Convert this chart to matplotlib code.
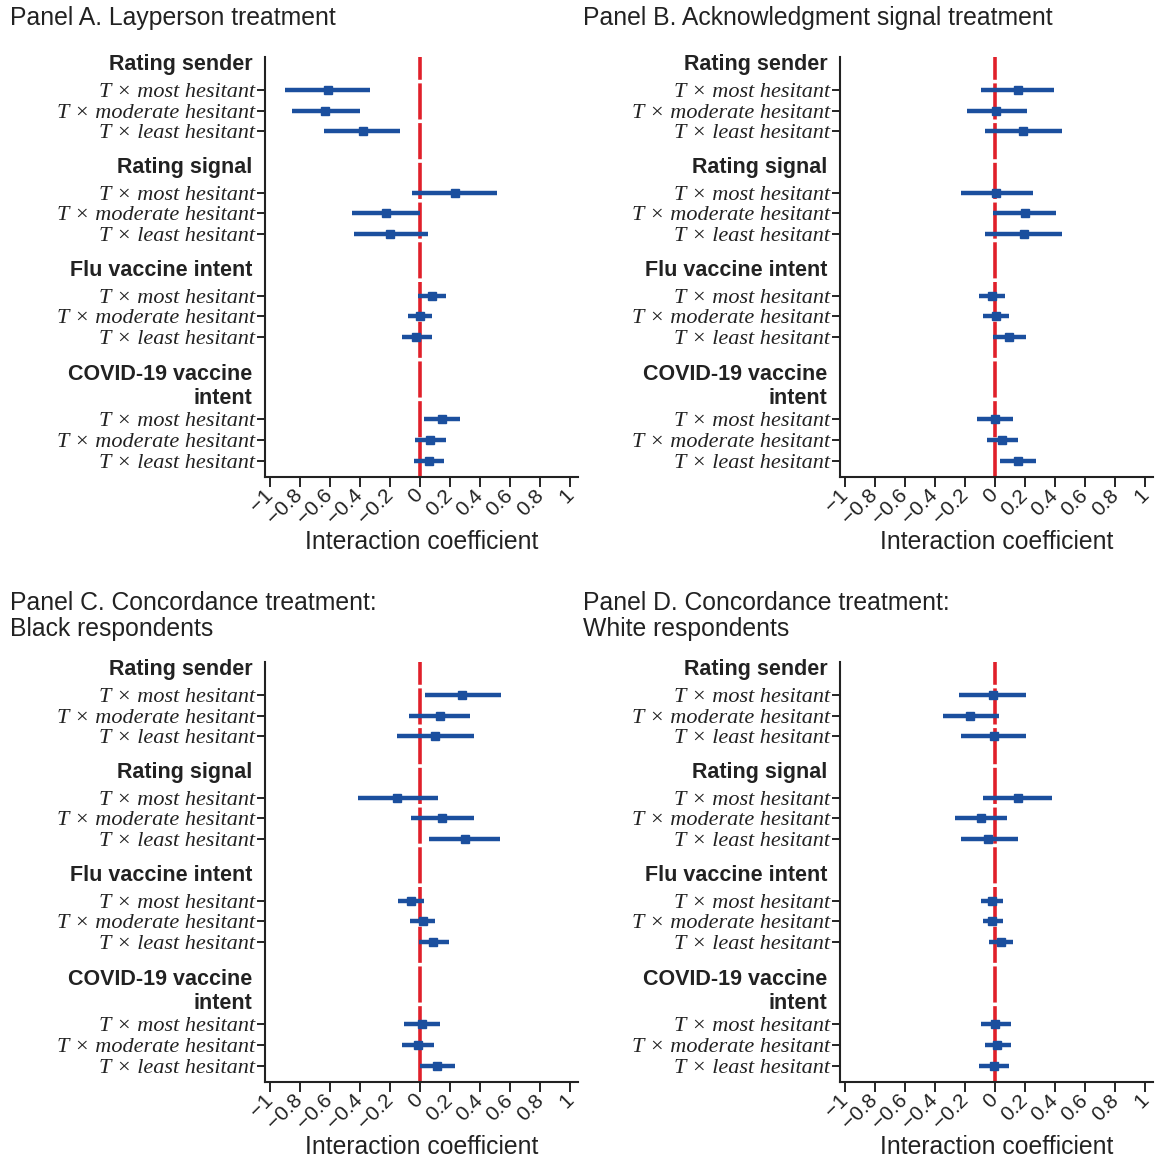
import numpy as np
import matplotlib
matplotlib.use('Agg')
import matplotlib.pyplot as plt
from matplotlib.transforms import blended_transform_factory

plt.rcParams['font.family'] = ['Liberation Sans', 'DejaVu Sans']

GROUPS = ['Rating sender', 'Rating signal', 'Flu vaccine intent', 'COVID-19 vaccine\nintent']
ROW_LABELS = ['T \u00d7 most hesitant', 'T \u00d7 moderate hesitant', 'T \u00d7 least hesitant']

XTICKS = [-1, -0.8, -0.6, -0.4, -0.2, 0, 0.2, 0.4, 0.6, 0.8, 1]
XTICK_LABELS = ['\u22121', '\u22120.8', '\u22120.6', '\u22120.4', '\u22120.2', '0',
                '0.2', '0.4', '0.6', '0.8', '1']

TITLES = ['Panel A. Layperson treatment',
          'Panel B. Acknowledgment signal treatment',
          'Panel C. Concordance treatment:\nBlack respondents',
          'Panel D. Concordance treatment:\nWhite respondents']

# order: sender (most, moderate, least), signal (...), flu (...), covid (...)
A_COEF = [-0.61, -0.63, -0.38, 0.235, -0.225, -0.20, 0.077, 0.0, -0.025, 0.146, 0.064, 0.057]
A_LO = [-0.90, -0.85, -0.64, -0.05, -0.45, -0.44, -0.01, -0.08, -0.12, 0.027, -0.03, -0.04]
A_HI = [-0.33, -0.40, -0.13, 0.51, 0.0, 0.05, 0.17, 0.077, 0.077, 0.267, 0.17, 0.16]

B_COEF = [0.15, 0.007, 0.186, 0.007, 0.198, 0.193, -0.02, 0.007, 0.09, 0.0, 0.047, 0.15]
B_LO = [-0.093, -0.186, -0.064, -0.228, -0.01, -0.064, -0.105, -0.078, -0.01, -0.118, -0.05, 0.03]
B_HI = [0.39, 0.215, 0.445, 0.252, 0.406, 0.445, 0.066, 0.095, 0.206, 0.12, 0.15, 0.27]

C_COEF = [0.28, 0.13, 0.10, -0.15, 0.148, 0.297, -0.062, 0.02, 0.087, 0.01, -0.015, 0.114]
C_LO = [0.03, -0.07, -0.15, -0.41, -0.06, 0.06, -0.146, -0.067, -0.007, -0.104, -0.12, 0.0]
C_HI = [0.54, 0.33, 0.356, 0.12, 0.356, 0.53, 0.025, 0.10, 0.19, 0.136, 0.094, 0.23]

D_COEF = [-0.015, -0.164, -0.007, 0.15, -0.093, -0.044, -0.02, -0.02, 0.042, 0.002, 0.015, -0.007]
D_LO = [-0.24, -0.345, -0.228, -0.08, -0.267, -0.228, -0.093, -0.078, -0.04, -0.093, -0.066, -0.105]
D_HI = [0.206, 0.025, 0.206, 0.38, 0.078, 0.15, 0.05, 0.05, 0.12, 0.108, 0.108, 0.095]

PANELS = [(A_COEF, A_LO, A_HI), (B_COEF, B_LO, B_HI), (C_COEF, C_LO, C_HI), (D_COEF, D_LO, D_HI)]

BLUE = '#1b4f9e'
RED = '#e0202a'
W, H = 1160, 1163

# row layout (one unit = one row)
rows, headers = [], []
start = 1.6
for g, name in enumerate(GROUPS):
    nlines = name.count('\n') + 1
    if g > 0:
        start = rows[-1] + 2 + nlines
    headers.append(start - 1.25 - 0.35 * (nlines - 1))
    rows.extend(start + np.arange(3))
rows = np.array(rows)

fig = plt.figure(figsize=(W / 100, H / 100), dpi=100)

lefts = [265, 840, 265, 840]
tops = [57, 57, 662, 662]
title_pos = [(10, 18), (583, 18), (10, 616), (583, 616)]

for i, (coef, lo, hi) in enumerate(PANELS):
    ax = fig.add_axes([lefts[i] / W, 1 - (tops[i] + 420) / H, 313 / W, 420 / H])
    coef, lo, hi = map(np.array, (coef, lo, hi))
    ax.axvline(0, color=RED, lw=2.6, ls=(0, (10, 1)), zorder=1)
    ax.hlines(rows, lo, hi, color=BLUE, lw=3.2, zorder=2)
    ax.plot(coef, rows, 's', color=BLUE, ms=5.5, zorder=3)

    ax.set_xlim(-1.03, 1.05)
    ax.set_ylim(20.4, 0)
    ax.set_yticks(rows)
    ax.set_yticklabels(ROW_LABELS * 4, fontfamily='Liberation Serif', style='italic',
                       fontsize=16, color='#222222')
    ax.set_xticks(XTICKS)
    ax.set_xticklabels(XTICK_LABELS, rotation=45, ha='right', va='center',
                       rotation_mode='anchor', fontsize=15, color='#222222')
    ax.tick_params(axis='y', length=6, width=1.2, pad=1)
    ax.tick_params(axis='x', length=7, width=1.2, pad=4)
    for s in ['top', 'right']:
        ax.spines[s].set_visible(False)
    for s in ['left', 'bottom']:
        ax.spines[s].set_linewidth(1.5)
        ax.spines[s].set_color('#222222')

    trans = blended_transform_factory(ax.transAxes, ax.transData)
    for y, name in zip(headers, GROUPS):
        ax.text(-0.04, y, name, transform=trans, ha='right', va='center',
                fontsize=15.5, fontweight='bold', color='#222222', linespacing=1.15)

    ax.set_xlabel('Interaction coefficient', fontsize=17.8, color='#222222', labelpad=1)

    tx, ty = title_pos[i]
    fig.text(tx / W, 1 - ty / H, TITLES[i], ha='left', va='center', fontsize=17.8,
             color='#222222', linespacing=1.1)

fig.savefig('out.png', dpi=100)
